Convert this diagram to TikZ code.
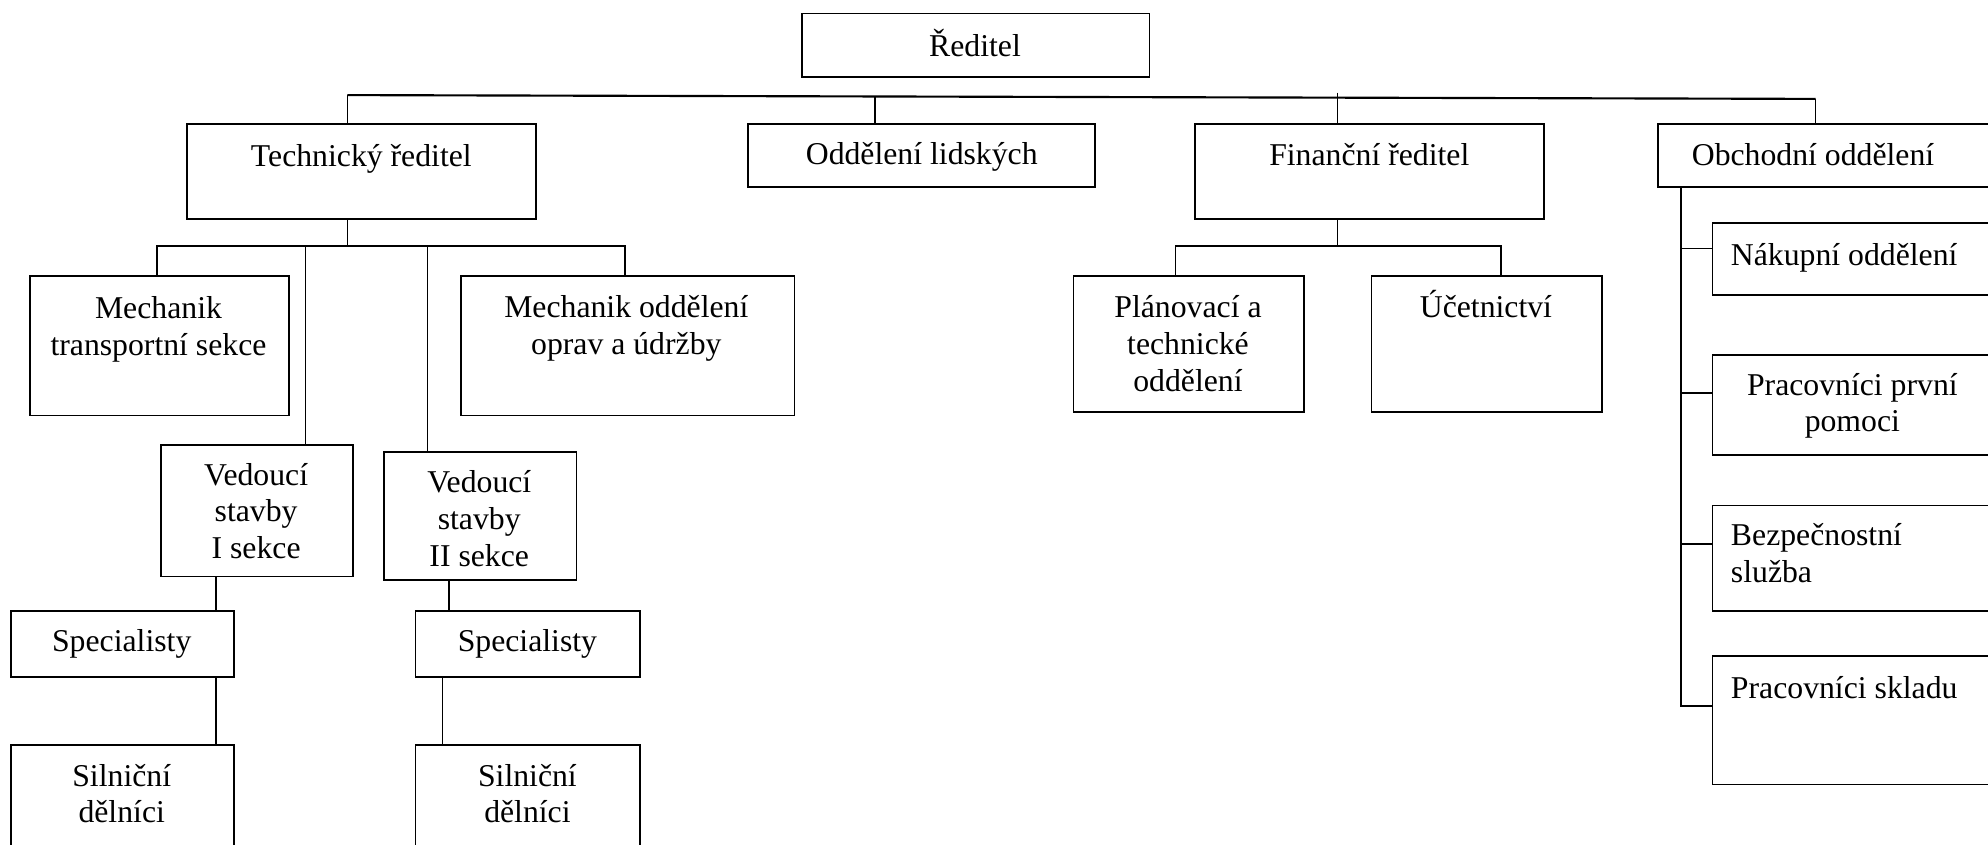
\documentclass[tikz,border=0pt]{standalone}
\usepackage{fontspec}
\setmainfont{Liberation Serif}
\newcommand{\px}{0.025cm}
\tikzset{
    org_box/.style = {draw=black, rectangle, line width=1pt, inner sep=0pt, anchor=north west},
    org_text/.style = {align=center, inner sep=0pt, font=\fontsize{17.8}{20.6}\selectfont},
    left_text/.style = {org_text, align=left, anchor=west},
    link/.style = {draw=black, line width=0.85pt},
    bus/.style = {draw=black, line width=1.2pt}
}

\begin{document}
\begin{tikzpicture}[x=\px, y=-\px]
    \clip (0,0) rectangle (1568,666);

    % boxes
    \node[org_box, minimum width=274*\px, minimum height=50*\px] (dir) at (632,10) {};
    \node[org_box, minimum width=275*\px, minimum height=75*\px] (tech) at (147,97) {};
    \node[org_box, minimum width=274*\px, minimum height=50*\px] (hr) at (589,97) {};
    \node[org_box, minimum width=275*\px, minimum height=75*\px] (fin) at (942,97) {};
    \node[org_box, minimum width=300*\px, minimum height=50*\px] (obch) at (1307,97) {};

    \node[org_box, minimum width=204*\px, minimum height=110*\px] (mtrans) at (23,217) {};
    \node[org_box, minimum width=263*\px, minimum height=110*\px] (mopr) at (363,217) {};
    \node[org_box, minimum width=152*\px, minimum height=104*\px] (ved1) at (126,350) {};
    \node[org_box, minimum width=152*\px, minimum height=101*\px] (ved2) at (302,356) {};
    \node[org_box, minimum width=176*\px, minimum height=52*\px] (spec1) at (8,481) {};
    \node[org_box, minimum width=177*\px, minimum height=52*\px] (spec2) at (327,481) {};
    \node[org_box, minimum width=176*\px, minimum height=100*\px] (sil1) at (8,587) {};
    \node[org_box, minimum width=177*\px, minimum height=100*\px] (sil2) at (327,587) {};

    \node[org_box, minimum width=182*\px, minimum height=107*\px] (plan) at (846,217) {};
    \node[org_box, minimum width=182*\px, minimum height=107*\px] (acc) at (1081,217) {};

    \node[org_box, minimum width=260*\px, minimum height=57*\px] (buy) at (1350,175) {};
    \node[org_box, minimum width=260*\px, minimum height=79*\px] (aid) at (1350,279) {};
    \node[org_box, minimum width=260*\px, minimum height=83*\px] (sec) at (1350,398) {};
    \node[org_box, minimum width=260*\px, minimum height=101*\px] (store) at (1350,517) {};

    % texts
    \node[org_text] (tdir) at (769,34) {Ředitel};
    \node[org_text] (ttech) at (285,125) {Technický ředitel};
    \node[org_text] (thr) at (727,124) {Oddělení lidských};
    \node[org_text] (tfin) at (1080,122) {Finanční ředitel};
    \node[org_text] (tobch) at (1430,122) {Obchodní oddělení};
    \node[org_text] (tmtrans) at (125,260) {Mechanik\\transportní sekce};
    \node[org_text] (tmopr) at (494,259) {Mechanik oddělení\\oprav a údržby};
    \node[org_text] (tved1) at (202,403) {Vedoucí\\stavby\\I sekce};
    \node[org_text] (tved2) at (378,409) {Vedoucí\\stavby\\II sekce};
    \node[org_text] (tspec1) at (96,508) {Specialisty};
    \node[org_text] (tspec2) at (416,508) {Specialisty};
    \node[org_text] (tsil1) at (96,626) {Silniční\\dělníci};
    \node[org_text] (tsil2) at (416,626) {Silniční\\dělníci};
    \node[org_text] (tplan) at (937,271) {Plánovací a\\technické\\oddělení};
    \node[org_text] (tacc) at (1172,240) {Účetnictví};
    \node[left_text] (tbuy) at (1365,203) {Nákupní oddělení};
    \node[org_text] (taid) at (1461,320) {Pracovníci první\\pomoci};
    \node[left_text] (tsec) at (1365,436) {Bezpečnostní\\služba};
    \node[left_text] (tstore) at (1365,542) {Pracovníci skladu};

    % top level
    \coordinate (b1) at (274,75);
    \coordinate (b2) at (690,76);
    \coordinate (b3) at (1055,73);
    \coordinate (b4) at (1432,78);
    \draw[bus] (b1) -- (b4);
    \draw[link] (b1) -- (b1 |- tech.north);
    \draw[link] (b2) -- (b2 |- hr.north);
    \draw[link] (b3) -- (b3 |- fin.north);
    \draw[link] (b4) -- (b4 |- obch.north);

    % technical director
    \coordinate (t0) at (274,194);
    \coordinate (tb1) at (124,194);
    \coordinate (tb2) at (241,194);
    \coordinate (tb3) at (337,194);
    \coordinate (tb4) at (493,194);
    \draw[link] (t0 |- tech.south) -- (t0);
    \draw[link] (tb1 |- mtrans.north) -- (tb1) -- (tb4) -- (tb4 |- mopr.north);
    \draw[link] (tb2) -- (tb2 |- ved1.north);
    \draw[link] (tb3) -- (tb3 |- ved2.north);
    \draw[link] ([xshift=-15*\px]spec1.north east) -- ([xshift=-15*\px]spec1.north east |- ved1.south);
    \draw[link] ([xshift=-15*\px]spec1.south east) -- ([xshift=-15*\px]sil1.north east);
    \draw[link] ([xshift=27*\px]spec2.north west) -- ([xshift=27*\px]spec2.north west |- ved2.south);
    \draw[link] ([xshift=22*\px]spec2.south west) -- ([xshift=22*\px]sil2.north west);

    % financial director
    \coordinate (f0) at (1055,194);
    \coordinate (fb1) at (927,194);
    \coordinate (fb2) at (1184,194);
    \draw[link] (f0 |- fin.south) -- (f0);
    \draw[link] (fb1 |- plan.north) -- (fb1) -- (fb2) -- (fb2 |- acc.north);

    % sales department
    \coordinate (o1) at (1326,196);
    \coordinate (o2) at (1326,310);
    \coordinate (o3) at (1326,429);
    \coordinate (o4) at (1326,557);
    \draw[link] (o1 |- obch.south) -- (o4) -- (o4 -| store.west);
    \draw[link] (o1) -- (o1 -| buy.west);
    \draw[link] (o2) -- (o2 -| aid.west);
    \draw[link] (o3) -- (o3 -| sec.west);
\end{tikzpicture}
\end{document}
